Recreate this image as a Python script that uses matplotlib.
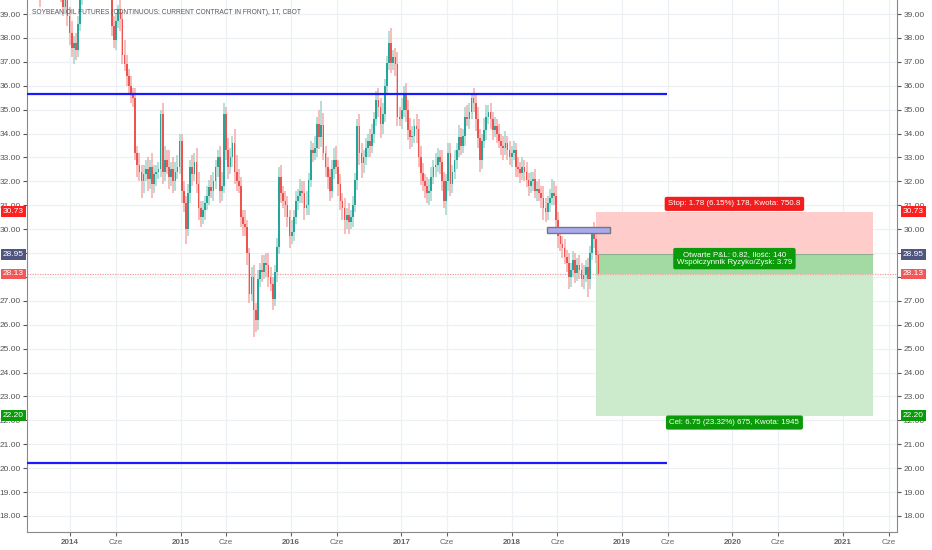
import numpy as np
import pandas as pd
import matplotlib
matplotlib.use("Agg")
import matplotlib.pyplot as plt
import matplotlib.dates as mdates
from matplotlib import patches

plt.rcParams["font.family"] = ["Liberation Sans", "DejaVu Sans"]

# weekly candles, soybean oil (CBOT)
week_start = "2013-08-12"
closes = [
    42.6, 42.9, 43.3, 42.4, 41.7, 41.2, 39.9, 40.8, 41.5, 41.0,
    40.6, 41.3, 41.0, 40.5, 40.8, 40.3, 39.8, 39.3, 39.6, 38.9,
    38.2, 37.6, 37.8, 37.5, 38.6, 39.8, 40.7, 41.5, 42.0, 42.6,
    42.2, 42.9, 42.3, 41.6, 42.0, 41.3, 40.8, 41.2, 40.6, 40.1,
    38.5, 37.9, 38.7, 39.2, 38.8, 37.3, 36.9, 36.4, 36.0, 35.7,
    35.5, 33.2, 32.7, 32.4, 32.0, 32.3, 32.5, 32.1, 32.6, 31.9,
    32.3, 32.4, 32.5, 34.8, 32.4, 32.9, 32.6, 32.2, 32.5, 32.0,
    32.4, 32.6, 33.7, 31.6, 31.1, 30.0, 31.5, 32.6, 32.3, 32.8,
    31.9, 30.9, 30.5, 30.8, 31.1, 31.4, 31.75, 31.6, 32.0, 32.6,
    33.0, 31.6, 31.8, 34.8, 33.3, 32.6, 33.0, 33.6, 32.4, 32.0,
    31.8, 30.5, 30.2, 30.1, 29.0, 27.3, 28.0, 26.6, 26.2, 27.9,
    28.3, 28.2, 28.6, 28.5, 28.0, 27.7, 27.1, 28.2, 29.25, 32.2,
    31.5, 31.2, 31.0, 30.5, 29.7, 29.9, 30.5, 31.2, 31.4, 31.6,
    31.5, 30.9, 31.0, 32.05, 33.3, 33.2, 33.4, 34.4, 33.85, 34.35,
    33.2, 32.6, 32.2, 31.6, 32.5, 32.9, 32.6, 31.9, 31.2, 30.9,
    30.4, 30.6, 30.3, 30.5, 31.0, 32.05, 34.3, 33.2, 32.75, 33.0,
    33.4, 33.7, 33.5, 34.0, 34.6, 35.4, 35.1, 34.4, 34.8, 36.0,
    36.95, 37.8, 36.95, 37.2, 36.9, 34.7, 34.6, 35.0, 35.7, 35.0,
    34.15, 33.85, 33.9, 34.3, 34.2, 33.0, 32.35, 32.0, 31.8, 31.5,
    31.6, 32.2, 32.6, 32.7, 33.0, 32.8, 32.0, 31.2, 32.0, 33.2,
    31.9, 32.4, 32.9, 33.3, 33.85, 33.5, 33.9, 34.7, 34.6, 34.9,
    35.5, 35.3, 34.6, 33.8, 32.9, 33.7, 34.15, 34.7, 34.9, 34.6,
    34.15, 34.3, 34.0, 33.7, 33.5, 33.4, 33.6, 33.3, 33.0, 33.2,
    33.3, 32.6, 32.5, 32.35, 32.6, 32.4, 32.05, 31.8, 32.0, 32.1,
    31.6, 31.7, 31.5, 31.3, 30.9, 30.7, 31.1, 31.3, 31.5, 31.4,
    30.4, 29.7, 29.4, 29.2, 28.85, 28.6, 28.0, 28.3, 28.7, 28.15,
    28.5, 28.3, 27.9, 28.1, 28.4, 27.9, 29.0, 29.8, 29.6, 28.9, 28.13,
]
# wick lengths above / below the body
wick_up = [
    0.6, 0.5, 0.4, 0.3, 0.5, 0.4, 0.6, 0.7, 0.4, 0.3,
    0.5, 0.4, 0.3, 0.6, 0.4, 0.5, 0.3, 0.4, 0.6, 0.3,
    0.4, 0.5, 0.3, 0.4, 0.3, 0.2, 0.5, 0.4, 0.6, 0.3,
    0.5, 0.4, 0.6, 0.3, 0.5, 0.4, 0.3, 0.6, 0.4, 0.3,
    0.5, 0.4, 0.3, 0.2, 0.5, 0.3, 0.6, 0.4, 0.3, 0.4,
    0.2, 0.4, 0.3, 0.5, 0.3, 0.4, 0.4, 0.5, 0.3, 0.6,
    0.4, 0.3, 0.3, 0.2, 0.5, 0.6, 0.4, 0.7, 0.3, 0.5,
    0.4, 0.5, 0.3, 0.3, 0.4, 0.3, 0.4, 0.3, 0.5, 0.4,
    0.6, 0.5, 0.3, 0.4, 0.3, 0.4, 0.3, 0.5, 0.4, 0.3,
    0.3, 0.5, 0.6, 0.5, 0.3, 0.5, 0.4, 0.3, 0.6, 0.7,
    0.5, 0.4, 0.3, 0.6, 0.3, 0.2, 0.4, 0.5, 0.3, 0.4,
    0.3, 0.6, 0.3, 0.4, 0.5, 0.4, 0.3, 0.3, 0.4, 0.4,
    0.5, 0.3, 0.4, 0.4, 0.3, 0.5, 0.3, 0.4, 0.3, 0.5,
    0.4, 0.5, 0.6, 0.3, 0.4, 0.3, 0.5, 0.3, 0.6, 1.0,
    0.5, 0.3, 0.4, 0.3, 0.4, 0.5, 0.6, 0.3, 0.4, 0.3,
    0.4, 0.3, 0.5, 0.3, 0.4, 0.3, 0.3, 0.5, 0.4, 0.3,
    0.4, 0.3, 0.5, 0.4, 0.3, 0.4, 0.5, 0.4, 0.5, 0.3,
    0.3, 0.5, 0.6, 0.3, 0.4, 0.5, 0.4, 0.5, 0.3, 0.4,
    0.4, 0.5, 0.4, 0.3, 0.5, 0.4, 0.5, 0.4, 0.3, 0.4,
    0.5, 0.4, 0.3, 0.5, 0.4, 0.3, 0.5, 0.4, 0.3, 0.4,
    0.4, 0.3, 0.4, 0.3, 0.5, 0.4, 0.3, 0.4, 0.5, 0.4,
    0.2, 0.4, 0.3, 0.5, 0.4, 0.3, 0.5, 0.5, 0.3, 0.4,
    0.3, 0.4, 0.3, 0.4, 0.3, 0.4, 0.5, 0.3, 0.4, 0.3,
    0.4, 0.3, 0.4, 0.3, 0.4, 0.3, 0.4, 0.3, 0.4, 0.3,
    0.4, 0.3, 0.4, 0.3, 0.5, 0.4, 0.3, 0.4, 0.6, 0.5,
    0.4, 0.3, 0.4, 0.3, 0.4, 0.3, 0.4, 0.3, 0.4, 0.3,
    0.3, 0.4, 0.3, 0.4, 0.3, 0.4, 0.3, 0.2, 0.5, 0.3, 0.2,
]
wick_dn = [
    0.4, 0.5, 0.3, 0.6, 0.4, 0.5, 0.6, 0.3, 0.4, 0.5,
    0.3, 0.4, 0.5, 0.3, 0.4, 0.5, 0.3, 0.4, 0.3, 0.4,
    0.5, 0.4, 0.7, 0.4, 0.3, 0.3, 0.4, 0.3, 0.4, 0.5,
    0.3, 0.4, 0.3, 0.5, 0.3, 0.4, 0.5, 0.3, 0.4, 0.3,
    0.4, 0.3, 0.4, 0.3, 0.5, 0.4, 0.3, 0.4, 0.3, 0.4,
    0.4, 0.3, 0.5, 0.4, 0.7, 0.5, 0.3, 0.5, 0.4, 0.6,
    0.4, 0.5, 0.3, 0.3, 0.5, 0.4, 0.3, 0.5, 0.4, 0.5,
    0.4, 0.3, 0.3, 0.5, 0.4, 0.6, 0.3, 0.4, 0.5, 0.3,
    0.4, 0.5, 0.4, 0.3, 0.4, 0.3, 0.4, 0.3, 0.4, 0.3,
    0.4, 0.5, 0.4, 0.3, 0.4, 0.5, 0.3, 0.4, 0.5, 0.4,
    0.3, 0.4, 0.5, 0.4, 0.5, 0.4, 0.3, 1.1, 0.5, 0.4,
    0.3, 0.4, 0.3, 0.5, 0.4, 0.3, 0.5, 0.3, 0.4, 0.3,
    0.4, 0.3, 0.5, 0.4, 0.5, 0.3, 0.4, 0.3, 0.4, 0.3,
    0.4, 0.5, 0.3, 0.4, 0.3, 0.4, 0.3, 0.4, 0.5, 0.4,
    0.3, 0.4, 0.5, 0.4, 0.3, 0.4, 0.3, 0.5, 0.4, 0.5,
    0.6, 0.4, 0.5, 0.3, 0.4, 0.3, 0.4, 0.5, 0.6, 0.4,
    0.3, 0.4, 0.5, 0.3, 0.4, 0.3, 0.4, 0.6, 0.4, 0.3,
    0.4, 0.3, 0.4, 0.3, 0.5, 0.4, 0.3, 0.4, 0.3, 0.5,
    0.4, 0.5, 0.4, 0.3, 0.6, 0.4, 0.5, 0.4, 0.5, 0.4,
    0.5, 0.4, 0.3, 0.4, 0.3, 0.5, 0.4, 0.3, 0.6, 0.4,
    0.5, 0.4, 0.3, 0.4, 0.3, 0.4, 0.3, 0.4, 0.3, 0.4,
    0.3, 0.4, 0.5, 0.4, 0.5, 0.4, 0.3, 0.4, 0.3, 0.4,
    0.4, 0.3, 0.4, 0.3, 0.4, 0.5, 0.3, 0.4, 0.3, 0.4,
    0.3, 0.4, 0.3, 0.4, 0.3, 0.4, 0.3, 0.4, 0.3, 0.4,
    0.3, 0.4, 0.3, 0.4, 0.5, 0.4, 0.3, 0.4, 0.3, 0.4,
    0.4, 0.5, 0.3, 0.4, 0.3, 0.4, 0.5, 0.4, 0.3, 0.4,
    0.3, 0.4, 0.3, 0.4, 0.3, 0.75, 0.4, 0.3, 0.4, 0.3, 0.1,
]

# drawings
hlines_price = [35.65, 20.22]
hlines_end = "2019-05-30"
pos_start, pos_end = "2018-10-07", "2021-04-10"
entry, stop, target, last = 28.95, 30.73, 22.20, 28.13
zone_start, zone_end = "2018-04-28", "2018-11-22"
zone_lo, zone_hi = 29.84, 30.09

stop_text = "Stop: 1.78 (6.15%) 178, Kwota: 750.8"
pnl_text = "Otwarte P&L: 0.82, Ilość: 140\nWspółczynnik Ryzyko/Zysk: 3.79"
target_text = "Cel: 6.75 (23.32%) 675, Kwota: 1945"
title = "SOYBEAN OIL FUTURES (CONTINUOUS: CURRENT CONTRACT IN FRONT), 1T, CBOT"

years = list(range(2014, 2022))
hidden_ticks = [28.0, 29.0]   # covered by the price tags

# ---------------------------------------------------------------
weeks = pd.date_range(week_start, periods=len(closes), freq="7D")
x = mdates.date2num(weeks)
c = np.array(closes)
o = np.r_[c[0], c[:-1]]          # weekly continuous: open ~ previous close
hi = np.maximum(o, c) + np.array(wick_up)
lo = np.minimum(o, c) - np.array(wick_dn)
up = c >= o

UP, DN = "#26a69a", "#ef5350"
UP_W, DN_W = "#9fd6cc", "#f6aaa8"

fig = plt.figure(figsize=(9.32, 5.5), dpi=100)
ax = fig.add_axes([27/932, 18/550, 870/932, 532/550])

d = lambda s: mdates.date2num(pd.Timestamp(s))

ax.set_xlim(d("2013-08-11"), d("2021-06-29"))
ax.set_ylim(17.33, 39.59)

# grid and ticks
ax.set_yticks(np.arange(18, 40, 1.0))
ax.yaxis.set_major_formatter(matplotlib.ticker.FuncFormatter(
    lambda v, _: "" if round(v, 2) in hidden_ticks else f"{v:.2f}"))
tick_pos, tick_lab = [], []
for y in years:
    tick_pos += [d(f"{y}-01-01"), d(f"{y}-06-01")]
    tick_lab += [str(y), "Cze"]
ax.set_xticks(tick_pos)
ax.set_xticklabels(tick_lab)
for t in ax.get_xticklabels():
    if t.get_text() != "Cze":
        t.set_fontweight("bold")
        t.set_color("#3a3a3a")
ax.grid(color="#edf1f5", lw=0.9, zorder=0)
ax.set_axisbelow(True)
ax.tick_params(axis="y", left=True, right=True, labelleft=True, labelright=True,
               labelsize=6, colors="#555555", length=3, pad=1.5)
ax.tick_params(axis="x", labelsize=5.8, colors="#666666", length=3, pad=2)
ax.spines["top"].set_visible(False)
for s in ("left", "right", "bottom"):
    ax.spines[s].set_color("#8a8a8a")

# position tool
px0, px1 = d(pos_start), d(pos_end)
ax.add_patch(patches.Rectangle((px0, entry), px1-px0, stop-entry, fc="#ffcccc", ec="none", zorder=1))
ax.add_patch(patches.Rectangle((px0, target), px1-px0, entry-target, fc="#ccebcc", ec="none", zorder=1))
ax.add_patch(patches.Rectangle((px0, last), px1-px0, entry-last, fc="#a3d9a3", ec="none", zorder=1))
ax.hlines(entry, px0, px1, color="#8fb08f", lw=0.8, zorder=1)

# last price line
ax.axhline(last, color="#f3a0a0", lw=0.9, ls=(0, (1, 1)), zorder=2)

# horizontal levels
for p in hlines_price:
    ax.hlines(p, ax.get_xlim()[0], d(hlines_end), color="#1a1aff", lw=1.6, zorder=4)

# candles
ax.vlines(x, lo, hi, colors=np.where(up, UP_W, DN_W), lw=1.1, zorder=3)
body_lo = np.minimum(o, c)
body_h = np.maximum(np.abs(c - o), 0.06)
ax.bar(x, body_h, bottom=body_lo, width=5.6, color=np.where(up, UP, DN), lw=0, zorder=3)

# small zone rectangle
ax.add_patch(patches.Rectangle((d(zone_start), zone_lo), d(zone_end)-d(zone_start), zone_hi-zone_lo,
                               fc="#a9a9f2", ec="#777777", lw=1.0, zorder=5))

# labels of the position tool
mid = (px0 + px1) / 2
box = dict(boxstyle="round,pad=0.45,rounding_size=0.25", ec="none")
ax.text(mid, stop + 0.33, stop_text, ha="center", va="center", fontsize=5.7, color="white", zorder=6,
        bbox=dict(box, fc="#f21d1d"))
ax.text(mid, 28.77, pnl_text, ha="center", va="center", fontsize=5.7, color="white", zorder=6,
        linespacing=1.05, bbox=dict(box, fc="#0a9a0a"))
ax.text(mid, target - 0.29, target_text, ha="center", va="center", fontsize=5.7, color="white", zorder=6,
        bbox=dict(box, fc="#0a9a0a"))

# price tags on both axes
tags = [(stop, "#ff1f1f"), (entry, "#50557f"), (last, "#f25858"), (target, "#0a9a0a")]
for val, col in tags:
    for xa, ha, off in ((1.0, "left", 6), (0.0, "right", -3)):
        ax.annotate(f"{val:.2f}", xy=(xa, val), xycoords=("axes fraction", "data"),
                    xytext=(off, 0), textcoords="offset pixels",
                    ha=ha, va="center", fontsize=6, color="white", zorder=7, annotation_clip=False,
                    bbox=dict(boxstyle="square,pad=0.22", fc=col, ec="none"))

ax.text(0.006, 0.977, title, transform=ax.transAxes, ha="left", va="center",
        fontsize=4.8, color="#555555", zorder=6)

fig.savefig("out.png", dpi=100)
